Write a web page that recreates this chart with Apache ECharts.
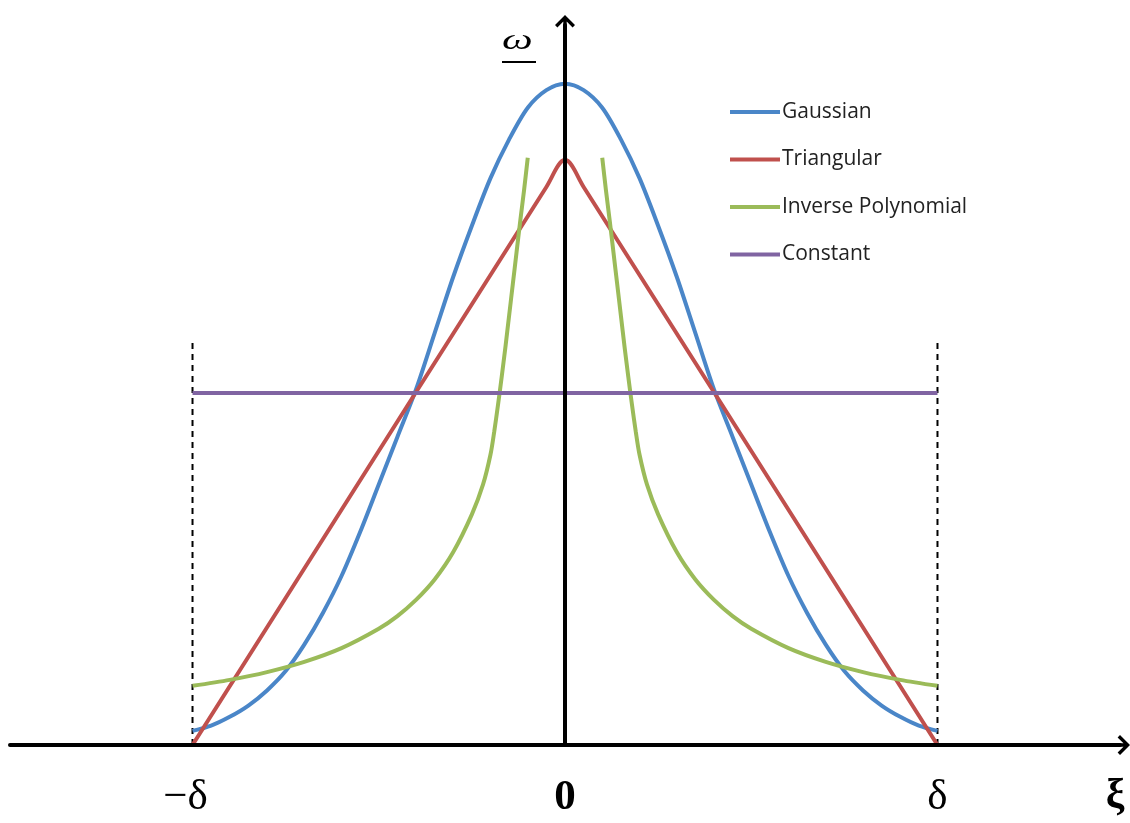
<!DOCTYPE html>
<html>
<head>
<meta charset="utf-8">
<script src="https://cdn.jsdelivr.net/npm/echarts@6/dist/echarts.min.js"></script>
<style>html,body{margin:0;padding:0;background:#fff}#c{width:1130px;height:823px}</style>
</head>
<body>
<div id="c"></div>
<script>
// ---- data (x in units of δ, y with Constant = 1) ----
const tickValues = [-1, 0, 1];
const tickLabels = ['−δ', '0', 'δ'];
const seriesNames = ['Gaussian', 'Triangular', 'Inverse Polynomial', 'Constant'];

const gaussX = [-1, -0.95, -0.9, -0.85, -0.8, -0.75, -0.7, -0.65, -0.6, -0.55, -0.5, -0.45, -0.4, -0.35, -0.3, -0.25, -0.2, -0.15, -0.1, -0.05,
  0, 0.05, 0.1, 0.15, 0.2, 0.25, 0.3, 0.35, 0.4, 0.45, 0.5, 0.55, 0.6, 0.65, 0.7, 0.75, 0.8, 0.85, 0.9, 0.95, 1];
const gaussY = [0.04, 0.055, 0.08, 0.112, 0.155, 0.21, 0.285, 0.375, 0.48, 0.605, 0.74, 0.875, 1.01, 1.17, 1.33, 1.475, 1.61, 1.72, 1.81, 1.86,
  1.878, 1.86, 1.81, 1.72, 1.61, 1.475, 1.33, 1.17, 1.01, 0.875, 0.74, 0.605, 0.48, 0.375, 0.285, 0.21, 0.155, 0.112, 0.08, 0.055, 0.04];

const triX = [-1, -0.05, 0, 0.05, 1];
const triY = [0, 1.585, 1.662, 1.585, 0];

const invLeftX = [-1, -0.9, -0.8, -0.7, -0.6, -0.5, -0.45, -0.4, -0.35, -0.3, -0.25, -0.22, -0.2, -0.19, -0.18, -0.17, -0.16, -0.15, -0.14, -0.13, -0.12, -0.11, -0.1];
const invLeftY = [0.168, 0.185, 0.207, 0.236, 0.275, 0.33, 0.366, 0.412, 0.47, 0.548, 0.655, 0.74, 0.825, 0.89, 0.965, 1.045, 1.13, 1.22, 1.31, 1.40, 1.49, 1.575, 1.668];
const invRightX = [0.1, 0.11, 0.12, 0.13, 0.14, 0.15, 0.16, 0.17, 0.18, 0.19, 0.2, 0.22, 0.25, 0.3, 0.35, 0.4, 0.45, 0.5, 0.6, 0.7, 0.8, 0.9, 1];
const invRightY = [1.668, 1.575, 1.49, 1.40, 1.31, 1.22, 1.13, 1.045, 0.965, 0.89, 0.825, 0.74, 0.655, 0.548, 0.47, 0.412, 0.366, 0.33, 0.275, 0.236, 0.207, 0.185, 0.168];

const constX = [-1, 1];
const constY = [1, 1];

const boundX = [-1, 1];
const boundTop = 1.15;

const colors = ['#4A86C8', '#C0504D', '#9BBB59', '#8064A2'];

const zip = (xs, ys) => xs.map((x, i) => [x, ys[i]]);
const arrow = 'path://M10,0 L20,10 L17.6,12.4 L11.7,6.5 L11.7,20 L8.3,20 L8.3,6.5 L2.4,12.4 L0,10 Z';

const chart = echarts.init(document.getElementById('c'), null, {renderer: 'canvas'});
const lw = 4;
const mkLine = (name, data, color, smooth) => ({
  name, type: 'line', data, showSymbol: false, symbol: 'none', smooth: smooth,
  lineStyle: {color, width: lw}, itemStyle: {color}, z: 3
});

chart.setOption({
  animation: false,
  backgroundColor: '#ffffff',
  grid: {left: 10, right: 10, top: 25, bottom: 78, containLabel: false},
  xAxis: {
    type: 'value', min: -1.49, max: 1.49, z: 5,
    axisLine: {onZero: true, lineStyle: {color: '#000', width: 4}, symbol: ['none', arrow], symbolSize: [20, 20]},
    axisTick: {show: false}, splitLine: {show: false},
    axisLabel: {
      customValues: tickValues, margin: 31,
      fontFamily: 'Liberation Serif', fontSize: 43, color: '#000',
      formatter: v => {
        const i = tickValues.findIndex(t => Math.abs(t - v) < 1e-9);
        const s = i >= 0 ? tickLabels[i] : '';
        if (v === 0) return '{b|' + s + '}';
        if (v < 0) return '{m|' + s + '}';
        return s;
      },
      rich: {
        b: {fontFamily: 'Liberation Serif', fontSize: 43, fontWeight: 'bold', color: '#000'},
        m: {fontFamily: 'Liberation Serif', fontSize: 43, color: '#000', padding: [0, 14, 0, 0]}
      }
    },
    name: 'ξ', nameLocation: 'end', nameGap: -5,
    nameTextStyle: {fontFamily: 'Liberation Serif', fontSize: 42, fontWeight: 'bold', color: '#000', align: 'center', verticalAlign: 'top', padding: [31, 0, 0, 0]}
  },
  yAxis: {
    type: 'value', min: 0, max: 2.045, z: 5,
    axisLine: {onZero: true, lineStyle: {color: '#000', width: 4}, symbol: ['none', arrow], symbolSize: [20, 20]},
    axisTick: {show: false}, splitLine: {show: false}, axisLabel: {show: false}
  },
  legend: {
    data: seriesNames, orient: 'vertical', left: 730, top: 101, padding: 0,
    itemWidth: 50, itemHeight: 14, itemGap: 25.5,
    textStyle: {fontFamily: 'Open Sans', fontSize: 21, lineHeight: 22, color: '#222', padding: [0, 0, 0, -3]},
    icon: 'path://M0,0 L50,0 L50,4 L0,4 Z'
  },
  graphic: [
    {type: 'text', x: 502, y: 26, scaleX: 1.45, style: {text: 'ω', font: 'italic 30px "Liberation Serif"', fill: '#000', verticalAlign: 'top'}},
    {type: 'rect', left: 502, top: 61, shape: {width: 34, height: 2}, style: {fill: '#000'}}
  ],
  series: [
    {name: 'boundL', type: 'line', data: [[boundX[0], 0], [boundX[0], boundTop]], showSymbol: false, symbol: 'none', lineStyle: {color: '#000', width: 2, type: [6, 5]}, z: 2},
    {name: 'boundR', type: 'line', data: [[boundX[1], 0], [boundX[1], boundTop]], showSymbol: false, symbol: 'none', lineStyle: {color: '#000', width: 2, type: [6, 5]}, z: 2},
    mkLine(seriesNames[0], zip(gaussX, gaussY), colors[0], 0.3),
    mkLine(seriesNames[1], zip(triX, triY), colors[1], 0.35),
    mkLine(seriesNames[2], zip(invLeftX, invLeftY), colors[2], 0.3),
    mkLine(seriesNames[2], zip(invRightX, invRightY), colors[2], 0.3),
    mkLine(seriesNames[3], zip(constX, constY), colors[3], false)
  ]
});
</script>
</body>
</html>
